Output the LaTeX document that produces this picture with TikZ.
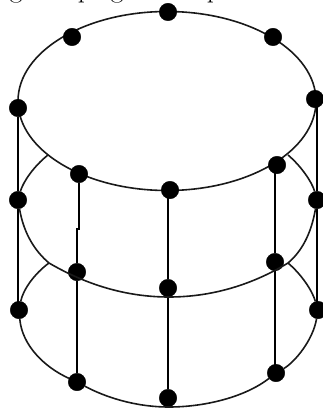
\documentclass[tikz,border=0pt]{standalone}
\usepackage{xcolor}
\usepackage{tikz}
\tikzset{
  dot/.style={draw, circle, fill=black, minimum size=17.5pt, inner sep=0pt},
  rim/.style={black!90, line width=1.6pt},
  post/.style={black, line width=2pt},
  cut/.style={font=\fontsize{28}{28}\selectfont, anchor=base, inner sep=0pt}
}
\begin{document}
\begin{tikzpicture}[x=1pt,y=-1pt]
  \useasboundingbox (0,0) rectangle (322,409);
  % line of text cut off by the top edge
  \begin{scope}
    \clip (0,0) rectangle (322,409);
    \node[cut] (g1) at (16,-2) {g};
    \node[cut] (p1) at (85,-2) {p};
    \node[cut] (g2) at (117,-2) {g};
    \node[cut] (p2) at (214,-2) {p};
  \end{scope}
  % top disc
  \draw[rim] (167,101) ellipse [x radius=149, y radius=89.5];
  % middle disc
  \coordinate (ml) at (48,155);
  \coordinate (mr) at (288,155);
  \coordinate (fl) at (49,263);
  \coordinate (fr) at (288,263);
  \node[dot] (t1) at (168,12) {};
  \node[dot] (t2) at (72,37) {};
  \node[dot] (t3) at (273,37) {};
  \node[dot] (t4) at (18,108) {};
  \node[dot] (t5) at (315,99) {};
  \node[dot] (t6) at (79,174) {};
  \node[dot] (t7) at (277,165) {};
  \node[dot] (t8) at (170,190) {};
  \node[dot] (m1) at (18,200) {};
  \node[dot] (m2) at (317,200) {};
  \node[dot] (m3) at (77,272) {};
  \node[dot] (m4) at (275,262) {};
  \node[dot] (m5) at (168,288) {};
  \node[dot] (b1) at (19,310) {};
  \node[dot] (b2) at (318,310) {};
  \node[dot] (b3) at (77,382) {};
  \node[dot] (b4) at (276,373) {};
  \node[dot] (b5) at (168,398) {};
  \coordinate (j1) at (79,229);
  \coordinate (j2) at (77,229);
  \draw[post] (t4) -- (m1) -- (m1 |- b1);
  \draw[post] (m2 |- t5) -- (m2) -- (m2 |- b2);
  \draw[post] (t6) -- (j1) -- (j2) -- (m3) -- (b3);
  \draw[post] (m4 |- t7) -- (m4) -- (m4 |- b4);
  \draw[post] (m5 |- t8) -- (m5) -- (b5);
  \draw[rim] (m1) .. controls (23,182) and (34,166) .. (ml);
  \draw[rim] (m2) .. controls (312,182) and (301,166) .. (mr);
  \draw[rim] (m1) .. controls (24,235) and (36,252) .. (fl)
    .. controls (85,284) and (125,297) .. (169,297)
    .. controls (215,297) and (255,283) .. (fr)
    .. controls (301,252) and (311,235) .. (m2);
  \draw[rim] (b1) .. controls (23,290) and (34,274) .. (fl);
  \draw[rim] (b2) .. controls (312,290) and (301,274) .. (fr);
  \draw[rim] (b1) .. controls (22,345) and (44,367) .. (b3)
    .. controls (105,397) and (135,407) .. (169,407)
    .. controls (205,407) and (245,397) .. (b4)
    .. controls (295,362) and (313,340) .. (b2);
\end{tikzpicture}
\end{document}
